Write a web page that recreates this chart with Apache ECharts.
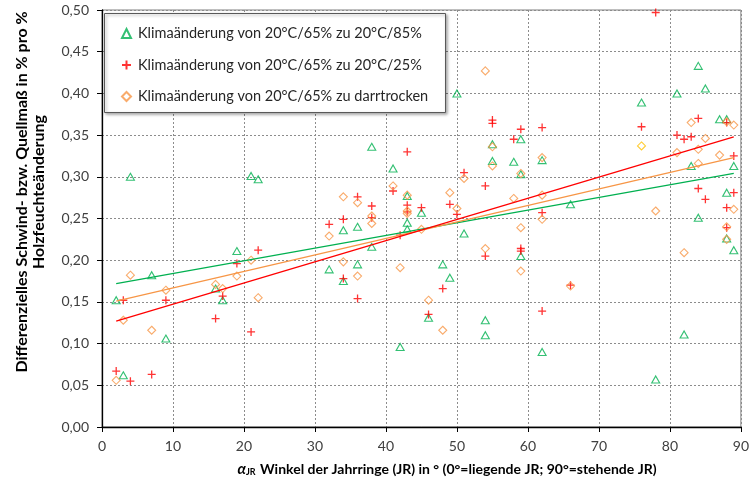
<!DOCTYPE html>
<html>
<head>
<meta charset="utf-8">
<script src="https://cdn.jsdelivr.net/npm/echarts@6/dist/echarts.min.js"></script>
<style>html,body{margin:0;padding:0;background:#fff}#c{width:752px;height:482px}</style>
</head>
<body>
<div id="c"></div>
<script>
// ---- Data ----
const seriesNames = [
  'Klimaänderung von 20°C/65% zu 20°C/85%',
  'Klimaänderung von 20°C/65% zu 20°C/25%',
  'Klimaänderung von 20°C/65% zu darrtrocken'
];
const data85 = [
  [2,0.152],[3,0.062],[4,0.300],[7,0.182],[9,0.106],[16,0.166],[17,0.152],[19,0.211],[21,0.301],[22,0.297],
  [32,0.189],[34,0.236],[34,0.175],[36,0.240],[36,0.195],[38,0.336],[38,0.216],[41,0.310],[42,0.096],
  [43,0.277],[43,0.245],[43,0.237],[45,0.257],[46,0.131],[48,0.195],[49,0.179],[50,0.400],[51,0.232],
  [54,0.128],[54,0.110],[55,0.339],[55,0.319],[58,0.318],[59,0.345],[59,0.303],[59,0.205],[62,0.320],
  [62,0.090],[66,0.267],[76,0.389],[78,0.057],[81,0.400],[82,0.111],[83,0.313],[84,0.433],[84,0.251],
  [85,0.406],[87,0.369],[88,0.369],[88,0.281],[88,0.226],[89,0.313],[89,0.212]
];
const data25 = [
  [2,0.067],[3,0.152],[4,0.055],[7,0.063],[9,0.152],[16,0.130],[17,0.157],[19,0.196],[21,0.114],[22,0.212],
  [32,0.243],[34,0.249],[34,0.178],[36,0.276],[36,0.154],[38,0.265],[38,0.251],[41,0.283],[42,0.230],
  [43,0.330],[43,0.266],[43,0.258],[45,0.263],[46,0.135],[48,0.166],[49,0.267],[50,0.255],[51,0.305],
  [54,0.289],[54,0.205],[55,0.368],[55,0.364],[58,0.345],[59,0.357],[59,0.214],[59,0.211],[62,0.359],
  [62,0.257],[62,0.139],[66,0.170],[76,0.360],[78,0.497],[81,0.350],[82,0.345],[83,0.348],[84,0.370],
  [84,0.286],[85,0.273],[88,0.365],[88,0.263],[88,0.239],[89,0.325],[89,0.281]
];
const dataDarr = [
  [2,0.056],[3,0.128],[4,0.182],[7,0.116],[9,0.164],[16,0.171],[17,0.166],[19,0.181],[21,0.200],[22,0.155],
  [32,0.229],[34,0.276],[34,0.198],[36,0.269],[36,0.181],[38,0.253],[38,0.244],[41,0.289],[42,0.191],
  [43,0.278],[43,0.259],[43,0.256],[45,0.237],[46,0.152],[48,0.116],[49,0.281],[50,0.262],[51,0.298],
  [54,0.427],[54,0.214],[55,0.336],[55,0.313],[58,0.274],[59,0.304],[59,0.239],[59,0.187],[62,0.323],
  [62,0.278],[62,0.249],[66,0.169],[76,0.337],[78,0.259],[81,0.329],[82,0.209],[83,0.365],[84,0.333],
  [84,0.316],[85,0.346],[87,0.326],[88,0.366],[88,0.240],[88,0.225],[89,0.362],[89,0.261]
];
const goldPointIndex = 40; // the one diamond drawn in a yellow tone
// trend line end points
const trend85 = [[2,0.172],[89,0.304]];
const trend25 = [[2,0.127],[89,0.348]];
const trendDarr = [[2,0.151],[89,0.323]];
const xTicks = [0,10,20,30,40,50,60,70,80,90];
const yTicks = [0,0.05,0.10,0.15,0.20,0.25,0.30,0.35,0.40,0.45,0.50];

// ---- Styles ----
const GREEN = '#00B050', RED = '#FF0000', ORANGE = '#F79646', GOLD = '#FFC000';
const FONT = 'Lato';
const plusPath = 'path://M0,5L10,5M5,0L5,10';

const chart = echarts.init(document.getElementById('c'), null, {renderer:'canvas'});
const option = {
  animation: false,
  backgroundColor: '#fff',
  grid: {left:102, right:11, top:10, bottom:55, show:true, borderColor:'#7f7f7f', borderWidth:1, backgroundColor:'transparent'},
  xAxis: {
    type:'value', min:0, max:90, interval:10,
    axisLine:{show:true, onZero:false, lineStyle:{color:'#000', width:1.3}},
    axisTick:{show:true, length:5, lineStyle:{color:'#000'}},
    axisLabel:{color:'#404040', fontFamily:FONT, fontSize:14, margin:12,
      formatter: v => xTicks.includes(v) ? String(v) : ''},
    splitLine:{show:true, lineStyle:{color:'#8c8c8c', type:[2,2], width:1}}
  },
  yAxis: {
    type:'value', min:0, max:0.5, interval:0.05,
    axisLine:{show:true, onZero:false, lineStyle:{color:'#000', width:1.3}},
    axisTick:{show:true, length:5, lineStyle:{color:'#000'}},
    axisLabel:{color:'#404040', fontFamily:FONT, fontSize:14, margin:13,
      formatter: v => { const t = yTicks.find(y => Math.abs(y - v) < 1e-6); return t === undefined ? '' : t.toFixed(2).replace('.', ','); }},
    splitLine:{show:true, lineStyle:{color:'#8c8c8c', type:[2,2], width:1}}
  },
  legend: {
    data: seriesNames, z:20,
    orient:'vertical', left:121, top:26, padding:0, itemGap:16.5,
    itemWidth:9, itemHeight:9,
    textStyle:{fontFamily:FONT, fontSize:14.5, color:'#262626', padding:[0,0,0,2]},
    selectedMode:false
  },
  graphic: [
    {type:'rect', shape:{x:104.5, y:13.5, width:341, height:99}, z:5,
     style:{fill:'#fff', stroke:'#595959', lineWidth:1, shadowBlur:3, shadowOffsetX:1.5, shadowOffsetY:1.5, shadowColor:'rgba(0,0,0,0.35)'}},
    {type:'text', x:30, y:192, rotation:Math.PI/2, z:10,
     style:{text:'Differenzielles Schwind- bzw. Quellmaß in % pro %\nHolzfeuchteänderung',
       font:'bold 16px Lato', fill:'#000', align:'center', verticalAlign:'middle', lineHeight:17}},
    {type:'text', x:447, y:469, z:10,
     style:{text:'{a|α}{s|JR} Winkel der Jahrringe (JR) in ° (0°=liegende JR; 90°=stehende JR)',
       font:'bold 14px Lato', fill:'#000', align:'center', verticalAlign:'middle',
       rich:{a:{font:'italic bold 15px Lato', fill:'#000'}, s:{font:'bold 9px Lato', fill:'#000', verticalAlign:'bottom', padding:[6,1,0,0]}}}}
  ],
  series: [
    {name:seriesNames[0], type:'scatter', symbol:'triangle', symbolSize:[8,7], z:3,
     itemStyle:{color:'rgba(255,255,255,0)', borderColor:GREEN, borderWidth:1.1}, data:data85},
    {name:seriesNames[1], type:'scatter', symbol:plusPath, symbolSize:8, z:3,
     itemStyle:{color:'rgba(255,255,255,0)', borderColor:RED, borderWidth:1.3}, data:data25},
    {name:seriesNames[2], type:'scatter', symbol:'diamond', symbolSize:8, z:3,
     itemStyle:{color:'rgba(255,255,255,0)', borderColor:ORANGE, borderWidth:1.1},
     data: dataDarr.map((p,i) => i === goldPointIndex ? {value:p, itemStyle:{borderColor:GOLD}} : p)},
    {type:'line', data:trend85, showSymbol:false, symbol:'none', z:4, lineStyle:{color:GREEN, width:1.3}, silent:true},
    {type:'line', data:trendDarr, showSymbol:false, symbol:'none', z:4, lineStyle:{color:ORANGE, width:1.3}, silent:true},
    {type:'line', data:trend25, showSymbol:false, symbol:'none', z:4, lineStyle:{color:RED, width:1.3}, silent:true}
  ]
};
chart.setOption(option);
</script>
</body>
</html>
